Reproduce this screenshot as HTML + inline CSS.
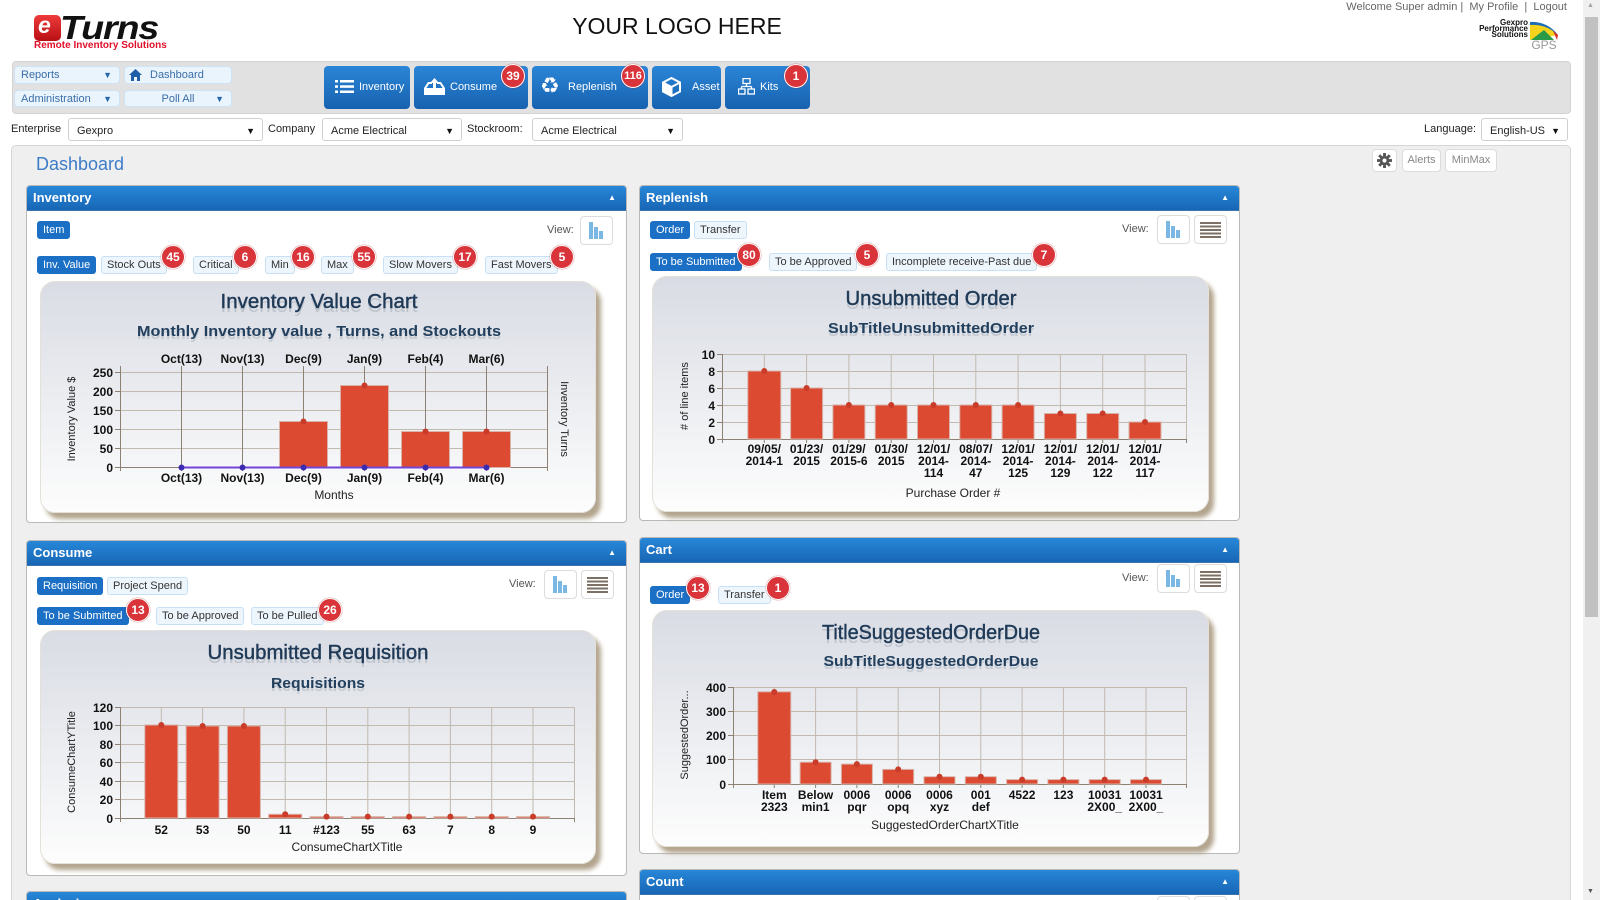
<!DOCTYPE html>
<html>
<head>
<meta charset="utf-8">
<style>
*{margin:0;padding:0;box-sizing:border-box;}
html,body{width:1600px;height:900px;overflow:hidden;background:#fff;font-family:"Liberation Sans",Arial,sans-serif;color:#333;}
#pg{position:relative;width:1600px;height:900px;overflow:hidden;background:#fff;}
.a{position:absolute;}
.dd{position:absolute;background:#eaf4fd;border:1px solid #cfe3f5;border-radius:4px;font-size:11px;color:#3a6ea8;line-height:16px;padding-left:6px;}
.dd .ar{position:absolute;right:7px;top:0;color:#2767b0;font-size:9px;}
.nb{position:absolute;top:66px;height:43px;border-radius:4px;background:linear-gradient(#2b85d6,#1762b0);color:#fff;font-size:11px;}
.nb span{position:absolute;top:15px;}
.badge{position:absolute;width:24px;height:24px;border-radius:50%;background:#d8343a;border:1px solid #fff;box-shadow:0 0 1px #a00;color:#fff;font-weight:bold;font-size:12px;text-align:center;line-height:22px;}
.sel{position:absolute;top:118px;height:23px;background:#fff;border:1px solid #cfcfcf;border-radius:3px;font-size:11px;line-height:24px;padding-left:8px;color:#222;}
.sel .ar{position:absolute;right:7px;top:0;font-size:9px;color:#111;}
.lbl{position:absolute;top:123px;font-size:11px;color:#222;}
.panel{position:absolute;background:#fff;border:1px solid #b9b9b9;border-radius:4px;overflow:hidden;}
.ph{position:absolute;left:0;top:0;right:0;height:25px;background:linear-gradient(#2787d8,#1866b5);color:#fff;font-weight:bold;font-size:13px;line-height:24px;padding-left:6px;border-bottom:1px solid #3b73b0;}
.ph .up{position:absolute;right:10px;top:0;font-size:8px;}
.tab{position:absolute;height:18px;border-radius:3px;font-size:11px;line-height:16px;padding:0 5px;white-space:nowrap;}
.on{background:#1b6fc4;color:#fff;border:1px solid #1b6fc4;}
.off{background:#eef6fd;color:#333;border:1px solid #c9e0f4;}
.vw{position:absolute;font-size:11px;color:#555;}
.vb{position:absolute;width:33px;height:29px;background:#fff;border:1px solid #dcdcdc;border-radius:4px;}
.cbox{position:absolute;border-radius:15px;background:linear-gradient(#d9dce4 0%,#e9ebef 45%,#fdfdfd 100%);box-shadow:5px 6px 5px #b3a58e;border:1px solid #e4e1da;}
.wb{position:absolute;top:149px;height:23px;background:#fff;border:1px solid #dcdcdc;border-radius:4px;font-size:11px;color:#888;line-height:21px;text-align:center;}
</style>
</head>
<body>
<div id="pg">

<!-- Header -->
<div class="a" style="left:34px;top:15px;width:27px;height:26px;background:linear-gradient(#ee3b3b,#b80f14);border-radius:5px;"></div>
<div class="a" style="left:38px;top:12px;font:italic bold 23px 'Liberation Sans',sans-serif;color:#fff;">e</div>
<div class="a" style="left:60px;top:9px;font:italic bold 33px 'Liberation Sans',sans-serif;color:#111;letter-spacing:-1px;transform:scale(1.14,1);transform-origin:0 0;">Turns</div>
<div class="a" style="left:34px;top:40px;font:bold 10px 'Liberation Sans',sans-serif;color:#e0102a;white-space:nowrap;">Remote Inventory Solutions</div>

<div class="a" style="left:560px;top:13px;width:234px;text-align:center;font-size:23px;color:#111;">YOUR LOGO HERE</div>

<div class="a" style="right:33px;top:1px;font-size:11px;color:#666;white-space:nowrap;">Welcome Super admin | &nbsp;My Profile &nbsp;| &nbsp;Logout</div>
<div class="a" style="left:1462px;top:20px;width:66px;text-align:right;font:bold 8px/6px 'Liberation Sans',sans-serif;color:#111;">Gexpro<br>Performance<br>Solutions</div>
<svg class="a" style="left:1529px;top:19px;" width="32" height="32" viewBox="0 0 32 32">
<path d="M1,3 Q18,3 29,16 L1,21 Z" fill="#f5d21c"/>
<path d="M1,3 Q18,2 29,16 L24,12 Q14,5 1,6 Z" fill="#1b6db5"/>
<path d="M24,12 Q27,14 29,16 L28,21 Z" fill="#d9302c"/>
<polygon points="2,21 15,11 25,21" fill="#2a9a48"/>
<text x="15" y="30" font-size="12" fill="#999" text-anchor="middle" font-family="Liberation Sans">GPS</text>
</svg>

<!-- Nav bar -->
<div class="a" style="left:12px;top:61px;width:1559px;height:53px;background:#e1e1e1;border:1px solid #d3d3d3;border-radius:4px;"></div>
<div class="dd" style="left:14px;top:66px;width:106px;height:18px;">Reports<span class="ar">▼</span></div>
<div class="dd" style="left:124px;top:66px;width:108px;height:18px;padding-left:25px;">Dashboard</div>
<svg class="a" style="left:129px;top:69px;" width="13" height="12" viewBox="0 0 13 12"><polygon points="6.5,0 13,6 11,6 11,12 8,12 8,8 5,8 5,12 2,12 2,6 0,6" fill="#1f5fa8"/></svg>
<div class="dd" style="left:14px;top:90px;width:106px;height:17px;">Administration<span class="ar">▼</span></div>
<div class="dd" style="left:124px;top:90px;width:108px;height:17px;text-align:center;padding-left:0;">Poll All<span class="ar">▼</span></div>

<div class="nb" style="left:324px;width:86px;"><span style="left:35px;">Inventory</span></div>
<svg class="a" style="left:335px;top:79px;" width="19" height="15" viewBox="0 0 19 15"><rect x="0" y="1" width="3" height="2.5" fill="#fff"/><rect x="5" y="1" width="14" height="2.5" fill="#fff"/><rect x="0" y="6.3" width="3" height="2.5" fill="#fff"/><rect x="5" y="6.3" width="14" height="2.5" fill="#fff"/><rect x="0" y="11.5" width="3" height="2.5" fill="#fff"/><rect x="5" y="11.5" width="14" height="2.5" fill="#fff"/></svg>
<div class="nb" style="left:414px;width:114px;"><span style="left:36px;">Consume</span></div>
<svg class="a" style="left:424px;top:78px;" width="21" height="17" viewBox="0 0 21 17"><polygon points="0,10 4,4 8,4 8,6 5,6 2.5,10 18.5,10 16,6 13,6 13,4 17,4 21,10 21,17 0,17" fill="#fff"/><polygon points="10.5,0 15,5 12,5 12,10 9,10 9,5 6,5" fill="#fff"/></svg>
<div class="nb" style="left:532px;width:116px;"><span style="left:36px;">Replenish</span></div>
<div class="a" style="left:540px;top:74px;font:bold 22px 'DejaVu Sans',sans-serif;color:#fff;">♻</div>
<div class="nb" style="left:652px;width:69px;"><span style="left:40px;">Asset</span></div>
<svg class="a" style="left:662px;top:77px;" width="19" height="20" viewBox="0 0 19 20"><polygon points="9.5,1 18,5.5 18,14.5 9.5,19 1,14.5 1,5.5" fill="none" stroke="#fff" stroke-width="2"/><polyline points="1,5.5 9.5,10 18,5.5" fill="none" stroke="#fff" stroke-width="2"/><line x1="9.5" y1="10" x2="9.5" y2="19" stroke="#fff" stroke-width="2"/><polygon points="1,5.5 9.5,10 9.5,19 1,14.5" fill="#fff"/></svg>
<div class="nb" style="left:725px;width:85px;"><span style="left:35px;">Kits</span></div>
<svg class="a" style="left:738px;top:78px;" width="17" height="17" viewBox="0 0 17 17"><rect x="5" y="0.5" width="7" height="5" fill="none" stroke="#fff" stroke-width="1.3"/><line x1="8.5" y1="5.5" x2="8.5" y2="8.5" stroke="#fff" stroke-width="1.3"/><line x1="3.5" y1="8.5" x2="13.5" y2="8.5" stroke="#fff" stroke-width="1.3"/><line x1="3.5" y1="8.5" x2="3.5" y2="11" stroke="#fff" stroke-width="1.3"/><line x1="13.5" y1="8.5" x2="13.5" y2="11" stroke="#fff" stroke-width="1.3"/><rect x="0.5" y="11" width="6.5" height="5" fill="none" stroke="#fff" stroke-width="1.3"/><rect x="10" y="11" width="6.5" height="5" fill="none" stroke="#fff" stroke-width="1.3"/></svg>
<div class="badge" style="left:501px;top:64px;">39</div>
<div class="badge" style="left:621px;top:64px;font-size:11px;">116</div>
<div class="badge" style="left:784px;top:64px;">1</div>

<!-- Filter row -->
<div class="lbl" style="left:11px;">Enterprise</div>
<div class="sel" style="left:68px;width:195px;">Gexpro<span class="ar">▼</span></div>
<div class="lbl" style="left:268px;">Company</div>
<div class="sel" style="left:322px;width:140px;">Acme Electrical<span class="ar">▼</span></div>
<div class="lbl" style="left:467px;">Stockroom:</div>
<div class="sel" style="left:532px;width:151px;">Acme Electrical<span class="ar">▼</span></div>
<div class="lbl" style="left:1424px;">Language:</div>
<div class="sel" style="left:1481px;width:87px;">English-US<span class="ar">▼</span></div>

<!-- Content area -->
<div class="a" style="left:11px;top:145px;width:1560px;height:770px;background:#efefef;border:1px solid #d6d6d6;border-radius:5px;"></div>
<div class="a" style="left:36px;top:154px;font-size:18px;color:#3d7cc9;">Dashboard</div>
<div class="wb" style="left:1372px;width:25px;"><svg width="15" height="15" viewBox="0 0 16 16" style="margin-top:3px"><g fill="#555"><circle cx="8" cy="8" r="5"/><rect x="6.5" y="0" width="3" height="16"/><rect x="0" y="6.5" width="16" height="3"/><rect x="6.5" y="0" width="3" height="16" transform="rotate(45 8 8)"/><rect x="6.5" y="0" width="3" height="16" transform="rotate(-45 8 8)"/></g><circle cx="8" cy="8" r="2.2" fill="#fff"/></svg></div>
<div class="wb" style="left:1402px;width:39px;">Alerts</div>
<div class="wb" style="left:1445px;width:52px;">MinMax</div>

<!-- Panels -->
<div class="panel" style="left:26px;top:185px;width:601px;height:338px;"><div class="ph">Inventory<span class="up">▲</span></div></div>
<div class="panel" style="left:639px;top:185px;width:601px;height:336px;"><div class="ph">Replenish<span class="up">▲</span></div></div>
<div class="panel" style="left:26px;top:540px;width:601px;height:336px;"><div class="ph">Consume<span class="up">▲</span></div></div>
<div class="panel" style="left:639px;top:537px;width:601px;height:317px;"><div class="ph">Cart<span class="up">▲</span></div></div>
<div class="panel" style="left:639px;top:869px;width:601px;height:60px;"><div class="ph">Count<span class="up">▲</span></div></div>
<div class="panel" style="left:26px;top:891px;width:601px;height:40px;"><div class="ph">Analysis<span class="up">▲</span></div></div>
<div class="vb" style="left:1157px;top:896px;"></div>
<div class="vb" style="left:1194px;top:896px;"></div>

<!-- Inventory panel content -->
<div class="tab on" style="left:37px;top:221px;">Item</div>
<div class="vw" style="left:547px;top:224px;">View:</div>
<div class="vb" style="left:580px;top:216px;"></div>
<div class="tab on" style="left:37px;top:256px;">Inv. Value</div>
<div class="tab off" style="left:101px;top:256px;">Stock Outs</div>
<div class="tab off" style="left:193px;top:256px;">Critical</div>
<div class="tab off" style="left:265px;top:256px;">Min</div>
<div class="tab off" style="left:321px;top:256px;">Max</div>
<div class="tab off" style="left:383px;top:256px;">Slow Movers</div>
<div class="tab off" style="left:485px;top:256px;">Fast Movers</div>
<div class="badge" style="left:161px;top:245px;">45</div>
<div class="badge" style="left:233px;top:245px;">6</div>
<div class="badge" style="left:291px;top:245px;">16</div>
<div class="badge" style="left:352px;top:245px;">55</div>
<div class="badge" style="left:453px;top:245px;">17</div>
<div class="badge" style="left:550px;top:245px;">5</div>

<!-- Replenish panel content -->
<div class="tab on" style="left:650px;top:221px;">Order</div>
<div class="tab off" style="left:694px;top:221px;">Transfer</div>
<div class="vw" style="left:1122px;top:223px;">View:</div>
<div class="vb" style="left:1157px;top:215px;"></div>
<div class="vb" style="left:1194px;top:215px;"></div>
<div class="tab on" style="left:650px;top:253px;">To be Submitted</div>
<div class="tab off" style="left:769px;top:253px;">To be Approved</div>
<div class="tab off" style="left:886px;top:253px;">Incomplete receive-Past due</div>
<div class="badge" style="left:737px;top:243px;">80</div>
<div class="badge" style="left:855px;top:243px;">5</div>
<div class="badge" style="left:1032px;top:243px;">7</div>

<!-- Consume panel content -->
<div class="tab on" style="left:37px;top:577px;">Requisition</div>
<div class="tab off" style="left:107px;top:577px;">Project Spend</div>
<div class="vw" style="left:509px;top:578px;">View:</div>
<div class="vb" style="left:544px;top:570px;"></div>
<div class="vb" style="left:581px;top:570px;"></div>
<div class="tab on" style="left:37px;top:607px;">To be Submitted</div>
<div class="tab off" style="left:156px;top:607px;">To be Approved</div>
<div class="tab off" style="left:251px;top:607px;">To be Pulled</div>
<div class="badge" style="left:126px;top:598px;">13</div>
<div class="badge" style="left:318px;top:598px;">26</div>

<!-- Cart panel content -->
<div class="vw" style="left:1122px;top:572px;">View:</div>
<div class="vb" style="left:1157px;top:564px;"></div>
<div class="vb" style="left:1194px;top:564px;"></div>
<div class="tab on" style="left:650px;top:586px;">Order</div>
<div class="tab off" style="left:718px;top:586px;">Transfer</div>
<div class="badge" style="left:686px;top:576px;">13</div>
<div class="badge" style="left:766px;top:576px;">1</div>

<!-- Chart boxes -->
<div class="cbox" style="left:40px;top:281px;width:556px;height:232px;"></div>
<div class="cbox" style="left:652px;top:276px;width:557px;height:236px;"></div>
<div class="cbox" style="left:40px;top:630px;width:556px;height:234px;"></div>
<div class="cbox" style="left:652px;top:610px;width:557px;height:237px;"></div>

<!-- Scrollbar -->
<div class="a" style="left:1583px;top:0;width:17px;height:900px;background:#f0f0f0;"></div>
<div class="a" style="left:1585px;top:17px;width:13px;height:600px;background:#c1c1c1;"></div>
<div class="a" style="left:1587px;top:2px;font-size:7px;color:#a3a3a3;">▲</div>
<div class="a" style="left:1587px;top:888px;font-size:7px;color:#555;">▼</div>

<!-- Overlay SVG for icons & charts -->
<svg class="a" style="left:0;top:0;" width="1600" height="900" viewBox="0 0 1600 900" font-family="Liberation Sans, Arial, sans-serif">
<defs>
<g id="barico"><rect x="0" y="0" width="4" height="17" fill="#7ab8e3"/><rect x="5" y="5" width="4" height="12" fill="#7ab8e3"/><rect x="10" y="9" width="4" height="8" fill="#7ab8e3"/></g>
<g id="listico" fill="#7d7165"><rect x="0" y="0" width="21" height="2"/><rect x="0" y="3.5" width="21" height="2"/><rect x="0" y="7" width="21" height="2"/><rect x="0" y="10.5" width="21" height="2"/><rect x="0" y="14" width="21" height="2"/></g>
</defs>
<use href="#barico" x="589" y="222"/>
<use href="#barico" x="1166" y="221"/><use href="#listico" x="1200" y="222"/>
<use href="#barico" x="553" y="576"/><use href="#listico" x="587" y="577"/>
<use href="#barico" x="1166" y="570"/><use href="#listico" x="1200" y="571"/>

<!-- ===== Inventory chart ===== -->
<g>
<text x="319" y="309" font-size="20" fill="#9aa3ad" opacity="0.45" text-anchor="middle" textLength="197" lengthAdjust="spacingAndGlyphs" transform="translate(0,3)">Inventory Value Chart</text>
<text x="319" y="308" font-size="20" fill="#1f3a57" stroke="#1f3a57" stroke-width="0.45" text-anchor="middle" textLength="197" lengthAdjust="spacingAndGlyphs">Inventory Value Chart</text>
<text x="319" y="337" font-size="15" font-weight="bold" fill="#9aa3ad" opacity="0.4" text-anchor="middle" textLength="364" lengthAdjust="spacingAndGlyphs" transform="translate(0,2)">Monthly Inventory value , Turns, and Stockouts</text>
<text x="319" y="336" font-size="15" font-weight="bold" fill="#22405e" text-anchor="middle" textLength="364" lengthAdjust="spacingAndGlyphs">Monthly Inventory value , Turns, and Stockouts</text>
<g stroke="#c2b9af" stroke-width="1">
<line x1="120" y1="372.5" x2="548" y2="372.5"/><line x1="120" y1="391.5" x2="548" y2="391.5"/><line x1="120" y1="410.5" x2="548" y2="410.5"/><line x1="120" y1="429.5" x2="548" y2="429.5"/><line x1="120" y1="448.5" x2="548" y2="448.5"/>
</g>
<g stroke="#8d8173" stroke-width="1">
<line x1="181.5" y1="366" x2="181.5" y2="471"/><line x1="242.5" y1="366" x2="242.5" y2="471"/><line x1="303.5" y1="366" x2="303.5" y2="471"/><line x1="364.5" y1="366" x2="364.5" y2="471"/><line x1="425.5" y1="366" x2="425.5" y2="471"/><line x1="486.5" y1="366" x2="486.5" y2="471"/>
<line x1="120.5" y1="366" x2="120.5" y2="471"/><line x1="547.5" y1="366" x2="547.5" y2="471"/>
<line x1="120" y1="467.5" x2="548" y2="467.5"/>
<line x1="115" y1="372.5" x2="120" y2="372.5"/><line x1="115" y1="391.5" x2="120" y2="391.5"/><line x1="115" y1="410.5" x2="120" y2="410.5"/><line x1="115" y1="429.5" x2="120" y2="429.5"/><line x1="115" y1="448.5" x2="120" y2="448.5"/><line x1="115" y1="467.5" x2="120" y2="467.5"/>
</g>
<g fill="#db4a31" stroke="#d9b3aa" stroke-width="1">
<rect x="279.5" y="421.5" width="48" height="46"/><rect x="340.5" y="385.5" width="48" height="82"/><rect x="401.5" y="431.5" width="48" height="36"/><rect x="462.5" y="431.5" width="48" height="36"/>
</g>
<g fill="#c93c2a"><circle cx="303.5" cy="421.5" r="3"/><circle cx="364.5" cy="385.5" r="3"/><circle cx="425.5" cy="431.5" r="3"/><circle cx="486.5" cy="431.5" r="3"/></g>
<line x1="181.5" y1="467.5" x2="486.5" y2="467.5" stroke="#7446d8" stroke-width="2"/>
<g fill="#3a2bb0"><circle cx="181.5" cy="467.5" r="3"/><circle cx="242.5" cy="467.5" r="3"/><circle cx="303.5" cy="467.5" r="3"/><circle cx="364.5" cy="467.5" r="3"/><circle cx="425.5" cy="467.5" r="3"/><circle cx="486.5" cy="467.5" r="3"/></g>
<g font-size="12" font-weight="bold" fill="#111" text-anchor="end" font-family="Liberation Sans Narrow, Liberation Sans, sans-serif">
<text x="113" y="377">250</text><text x="113" y="396">200</text><text x="113" y="415">150</text><text x="113" y="434">100</text><text x="113" y="453">50</text><text x="113" y="472">0</text>
</g>
<g font-size="12" font-weight="bold" fill="#111" text-anchor="middle" font-family="Liberation Sans Narrow, Liberation Sans, sans-serif">
<text x="181.5" y="363">Oct(13)</text><text x="242.5" y="363">Nov(13)</text><text x="303.5" y="363">Dec(9)</text><text x="364.5" y="363">Jan(9)</text><text x="425.5" y="363">Feb(4)</text><text x="486.5" y="363">Mar(6)</text>
<text x="181.5" y="482">Oct(13)</text><text x="242.5" y="482">Nov(13)</text><text x="303.5" y="482">Dec(9)</text><text x="364.5" y="482">Jan(9)</text><text x="425.5" y="482">Feb(4)</text><text x="486.5" y="482">Mar(6)</text>
</g>
<text x="334" y="499" font-size="12" fill="#222" text-anchor="middle" font-family="Liberation Sans Narrow, Liberation Sans, sans-serif">Months</text>
<text transform="translate(75,419) rotate(-90)" font-size="11" fill="#222" text-anchor="middle">Inventory Value $</text>
<text transform="translate(561,419) rotate(90)" font-size="11" fill="#222" text-anchor="middle">Inventory Turns</text>
</g>

<!-- ===== Replenish chart ===== -->
<g>
<text x="931" y="306" font-size="20" fill="#9aa3ad" opacity="0.45" text-anchor="middle" textLength="171" lengthAdjust="spacingAndGlyphs" transform="translate(0,3)">Unsubmitted Order</text>
<text x="931" y="305" font-size="20" fill="#1f3a57" stroke="#1f3a57" stroke-width="0.45" text-anchor="middle" textLength="171" lengthAdjust="spacingAndGlyphs">Unsubmitted Order</text>
<text x="931" y="334" font-size="15" font-weight="bold" fill="#9aa3ad" opacity="0.4" text-anchor="middle" textLength="206" lengthAdjust="spacingAndGlyphs" transform="translate(0,2)">SubTitleUnsubmittedOrder</text>
<text x="931" y="333" font-size="15" font-weight="bold" fill="#22405e" text-anchor="middle" textLength="206" lengthAdjust="spacingAndGlyphs">SubTitleUnsubmittedOrder</text>
<g stroke="#c2b9af" stroke-width="1">
<line x1="722" y1="354.5" x2="1187" y2="354.5"/><line x1="722" y1="371.5" x2="1187" y2="371.5"/><line x1="722" y1="388.5" x2="1187" y2="388.5"/><line x1="722" y1="405.5" x2="1187" y2="405.5"/><line x1="722" y1="422.5" x2="1187" y2="422.5"/>
<line x1="764.3" y1="354" x2="764.3" y2="439"/><line x1="806.6" y1="354" x2="806.6" y2="439"/><line x1="848.9" y1="354" x2="848.9" y2="439"/><line x1="891.2" y1="354" x2="891.2" y2="439"/><line x1="933.5" y1="354" x2="933.5" y2="439"/><line x1="975.8" y1="354" x2="975.8" y2="439"/><line x1="1018.1" y1="354" x2="1018.1" y2="439"/><line x1="1060.4" y1="354" x2="1060.4" y2="439"/><line x1="1102.7" y1="354" x2="1102.7" y2="439"/><line x1="1145" y1="354" x2="1145" y2="439"/><line x1="1186.5" y1="354" x2="1186.5" y2="439"/>
</g>
<g stroke="#8d8173" stroke-width="1">
<line x1="722.5" y1="354" x2="722.5" y2="443"/><line x1="722" y1="439.5" x2="1187" y2="439.5"/><line x1="1186.5" y1="439" x2="1186.5" y2="443"/>
<line x1="717" y1="354.5" x2="722" y2="354.5"/><line x1="717" y1="371.5" x2="722" y2="371.5"/><line x1="717" y1="388.5" x2="722" y2="388.5"/><line x1="717" y1="405.5" x2="722" y2="405.5"/><line x1="717" y1="422.5" x2="722" y2="422.5"/><line x1="717" y1="439.5" x2="722" y2="439.5"/>
<line x1="764.3" y1="439" x2="764.3" y2="443"/><line x1="806.6" y1="439" x2="806.6" y2="443"/><line x1="848.9" y1="439" x2="848.9" y2="443"/><line x1="891.2" y1="439" x2="891.2" y2="443"/><line x1="933.5" y1="439" x2="933.5" y2="443"/><line x1="975.8" y1="439" x2="975.8" y2="443"/><line x1="1018.1" y1="439" x2="1018.1" y2="443"/><line x1="1060.4" y1="439" x2="1060.4" y2="443"/><line x1="1102.7" y1="439" x2="1102.7" y2="443"/><line x1="1145" y1="439" x2="1145" y2="443"/>
</g>
<g fill="#db4a31" stroke="#d9b3aa" stroke-width="1">
<rect x="747.8" y="371" width="33" height="68"/><rect x="790.6" y="388" width="32" height="51"/><rect x="832.9" y="405" width="32" height="34"/><rect x="875.2" y="405" width="32" height="34"/><rect x="917.5" y="405" width="32" height="34"/><rect x="959.8" y="405" width="32" height="34"/><rect x="1002.1" y="405" width="32" height="34"/><rect x="1044.4" y="413.5" width="32" height="25.5"/><rect x="1086.7" y="413.5" width="32" height="25.5"/><rect x="1129" y="422" width="32" height="17"/>
</g>
<g fill="#c93c2a"><circle cx="764.3" cy="371" r="3"/><circle cx="806.6" cy="388" r="3"/><circle cx="848.9" cy="405" r="3"/><circle cx="891.2" cy="405" r="3"/><circle cx="933.5" cy="405" r="3"/><circle cx="975.8" cy="405" r="3"/><circle cx="1018.1" cy="405" r="3"/><circle cx="1060.4" cy="413.5" r="3"/><circle cx="1102.7" cy="413.5" r="3"/><circle cx="1145" cy="422" r="3"/></g>
<g font-size="12" font-weight="bold" fill="#111" text-anchor="end" font-family="Liberation Sans Narrow, Liberation Sans, sans-serif">
<text x="715" y="359">10</text><text x="715" y="376">8</text><text x="715" y="393">6</text><text x="715" y="410">4</text><text x="715" y="427">2</text><text x="715" y="444">0</text>
</g>
<g font-size="12" font-weight="bold" fill="#111" text-anchor="middle" font-family="Liberation Sans Narrow, Liberation Sans, sans-serif">
<text x="764.3" y="453">09/05/</text><text x="764.3" y="465">2014-1</text>
<text x="806.6" y="453">01/23/</text><text x="806.6" y="465">2015</text>
<text x="848.9" y="453">01/29/</text><text x="848.9" y="465">2015-6</text>
<text x="891.2" y="453">01/30/</text><text x="891.2" y="465">2015</text>
<text x="933.5" y="453">12/01/</text><text x="933.5" y="465">2014-</text><text x="933.5" y="477">114</text>
<text x="975.8" y="453">08/07/</text><text x="975.8" y="465">2014-</text><text x="975.8" y="477">47</text>
<text x="1018.1" y="453">12/01/</text><text x="1018.1" y="465">2014-</text><text x="1018.1" y="477">125</text>
<text x="1060.4" y="453">12/01/</text><text x="1060.4" y="465">2014-</text><text x="1060.4" y="477">129</text>
<text x="1102.7" y="453">12/01/</text><text x="1102.7" y="465">2014-</text><text x="1102.7" y="477">122</text>
<text x="1145" y="453">12/01/</text><text x="1145" y="465">2014-</text><text x="1145" y="477">117</text>
</g>
<text x="953" y="497" font-size="12" fill="#222" text-anchor="middle" font-family="Liberation Sans Narrow, Liberation Sans, sans-serif">Purchase Order #</text>
<text transform="translate(688,396) rotate(-90)" font-size="11" fill="#222" text-anchor="middle">#  of line items</text>
</g>

<!-- ===== Consume chart ===== -->
<g>
<text x="318" y="660" font-size="20" fill="#9aa3ad" opacity="0.45" text-anchor="middle" textLength="221" lengthAdjust="spacingAndGlyphs" transform="translate(0,3)">Unsubmitted Requisition</text>
<text x="318" y="659" font-size="20" fill="#1f3a57" stroke="#1f3a57" stroke-width="0.45" text-anchor="middle" textLength="221" lengthAdjust="spacingAndGlyphs">Unsubmitted Requisition</text>
<text x="318" y="689" font-size="15" font-weight="bold" fill="#9aa3ad" opacity="0.4" text-anchor="middle" textLength="94" lengthAdjust="spacingAndGlyphs" transform="translate(0,2)">Requisitions</text>
<text x="318" y="688" font-size="15" font-weight="bold" fill="#22405e" text-anchor="middle" textLength="94" lengthAdjust="spacingAndGlyphs">Requisitions</text>
<g stroke="#c2b9af" stroke-width="1">
<line x1="120" y1="707.5" x2="575" y2="707.5"/><line x1="120" y1="725.5" x2="575" y2="725.5"/><line x1="120" y1="744.5" x2="575" y2="744.5"/><line x1="120" y1="762.5" x2="575" y2="762.5"/><line x1="120" y1="781.5" x2="575" y2="781.5"/><line x1="120" y1="799.5" x2="575" y2="799.5"/>
<line x1="161.3" y1="707" x2="161.3" y2="818"/><line x1="202.6" y1="707" x2="202.6" y2="818"/><line x1="243.9" y1="707" x2="243.9" y2="818"/><line x1="285.2" y1="707" x2="285.2" y2="818"/><line x1="326.5" y1="707" x2="326.5" y2="818"/><line x1="367.8" y1="707" x2="367.8" y2="818"/><line x1="409.1" y1="707" x2="409.1" y2="818"/><line x1="450.4" y1="707" x2="450.4" y2="818"/><line x1="491.7" y1="707" x2="491.7" y2="818"/><line x1="533" y1="707" x2="533" y2="818"/><line x1="574.5" y1="707" x2="574.5" y2="818"/>
</g>
<g stroke="#8d8173" stroke-width="1">
<line x1="120.5" y1="707" x2="120.5" y2="822"/><line x1="120" y1="818.5" x2="575" y2="818.5"/><line x1="574.5" y1="818" x2="574.5" y2="822"/>
<line x1="115" y1="707.5" x2="120" y2="707.5"/><line x1="115" y1="725.5" x2="120" y2="725.5"/><line x1="115" y1="744.5" x2="120" y2="744.5"/><line x1="115" y1="762.5" x2="120" y2="762.5"/><line x1="115" y1="781.5" x2="120" y2="781.5"/><line x1="115" y1="799.5" x2="120" y2="799.5"/><line x1="115" y1="818.5" x2="120" y2="818.5"/>
</g>
<g fill="#db4a31" stroke="#d9b3aa" stroke-width="1">
<rect x="144.8" y="725" width="33" height="93"/><rect x="186.1" y="726" width="33" height="92"/><rect x="227.4" y="726" width="33" height="92"/><rect x="268.7" y="814.3" width="33" height="3.7"/><rect x="310" y="816.6" width="33" height="1.4"/><rect x="351.3" y="816.6" width="33" height="1.4"/><rect x="392.6" y="816.6" width="33" height="1.4"/><rect x="433.9" y="816.6" width="33" height="1.4"/><rect x="475.2" y="816.6" width="33" height="1.4"/><rect x="516.5" y="816.6" width="33" height="1.4"/>
</g>
<g fill="#c93c2a"><circle cx="161.3" cy="725" r="3"/><circle cx="202.6" cy="726" r="3"/><circle cx="243.9" cy="726" r="3"/><circle cx="285.2" cy="814.3" r="3"/><circle cx="326.5" cy="816.6" r="3"/><circle cx="367.8" cy="816.6" r="3"/><circle cx="409.1" cy="816.6" r="3"/><circle cx="450.4" cy="816.6" r="3"/><circle cx="491.7" cy="816.6" r="3"/><circle cx="533" cy="816.6" r="3"/></g>
<g font-size="12" font-weight="bold" fill="#111" text-anchor="end" font-family="Liberation Sans Narrow, Liberation Sans, sans-serif">
<text x="113" y="712">120</text><text x="113" y="730">100</text><text x="113" y="749">80</text><text x="113" y="767">60</text><text x="113" y="786">40</text><text x="113" y="804">20</text><text x="113" y="823">0</text>
</g>
<g font-size="12" font-weight="bold" fill="#111" text-anchor="middle" font-family="Liberation Sans Narrow, Liberation Sans, sans-serif">
<text x="161.3" y="834">52</text><text x="202.6" y="834">53</text><text x="243.9" y="834">50</text><text x="285.2" y="834">11</text><text x="326.5" y="834">#123</text><text x="367.8" y="834">55</text><text x="409.1" y="834">63</text><text x="450.4" y="834">7</text><text x="491.7" y="834">8</text><text x="533" y="834">9</text>
</g>
<text x="347" y="851" font-size="12" fill="#222" text-anchor="middle" font-family="Liberation Sans Narrow, Liberation Sans, sans-serif">ConsumeChartXTitle</text>
<text transform="translate(75,762) rotate(-90)" font-size="11" fill="#222" text-anchor="middle">ConsumeChartYTitle</text>
</g>

<!-- ===== Cart chart ===== -->
<g>
<text x="931" y="640" font-size="20" fill="#9aa3ad" opacity="0.45" text-anchor="middle" textLength="218" lengthAdjust="spacingAndGlyphs" transform="translate(0,3)">TitleSuggestedOrderDue</text>
<text x="931" y="639" font-size="20" fill="#1f3a57" stroke="#1f3a57" stroke-width="0.45" text-anchor="middle" textLength="218" lengthAdjust="spacingAndGlyphs">TitleSuggestedOrderDue</text>
<text x="931" y="667" font-size="15" font-weight="bold" fill="#9aa3ad" opacity="0.4" text-anchor="middle" textLength="215" lengthAdjust="spacingAndGlyphs" transform="translate(0,2)">SubTitleSuggestedOrderDue</text>
<text x="931" y="666" font-size="15" font-weight="bold" fill="#22405e" text-anchor="middle" textLength="215" lengthAdjust="spacingAndGlyphs">SubTitleSuggestedOrderDue</text>
<g stroke="#c2b9af" stroke-width="1">
<line x1="733" y1="687.5" x2="1187" y2="687.5"/><line x1="733" y1="711.5" x2="1187" y2="711.5"/><line x1="733" y1="735.5" x2="1187" y2="735.5"/><line x1="733" y1="759.5" x2="1187" y2="759.5"/>
<line x1="774.3" y1="687" x2="774.3" y2="784"/><line x1="815.6" y1="687" x2="815.6" y2="784"/><line x1="856.9" y1="687" x2="856.9" y2="784"/><line x1="898.2" y1="687" x2="898.2" y2="784"/><line x1="939.5" y1="687" x2="939.5" y2="784"/><line x1="980.8" y1="687" x2="980.8" y2="784"/><line x1="1022.1" y1="687" x2="1022.1" y2="784"/><line x1="1063.4" y1="687" x2="1063.4" y2="784"/><line x1="1104.7" y1="687" x2="1104.7" y2="784"/><line x1="1146" y1="687" x2="1146" y2="784"/><line x1="1186.5" y1="687" x2="1186.5" y2="784"/>
</g>
<g stroke="#8d8173" stroke-width="1">
<line x1="733.5" y1="687" x2="733.5" y2="788"/><line x1="733" y1="784.5" x2="1187" y2="784.5"/><line x1="1186.5" y1="784" x2="1186.5" y2="788"/>
<line x1="728" y1="687.5" x2="733" y2="687.5"/><line x1="728" y1="711.5" x2="733" y2="711.5"/><line x1="728" y1="735.5" x2="733" y2="735.5"/><line x1="728" y1="759.5" x2="733" y2="759.5"/><line x1="728" y1="784.5" x2="733" y2="784.5"/>
<line x1="774.3" y1="784" x2="774.3" y2="788"/><line x1="815.6" y1="784" x2="815.6" y2="788"/><line x1="856.9" y1="784" x2="856.9" y2="788"/><line x1="898.2" y1="784" x2="898.2" y2="788"/><line x1="939.5" y1="784" x2="939.5" y2="788"/><line x1="980.8" y1="784" x2="980.8" y2="788"/><line x1="1022.1" y1="784" x2="1022.1" y2="788"/><line x1="1063.4" y1="784" x2="1063.4" y2="788"/><line x1="1104.7" y1="784" x2="1104.7" y2="788"/><line x1="1146" y1="784" x2="1146" y2="788"/>
</g>
<g fill="#db4a31" stroke="#d9b3aa" stroke-width="1">
<rect x="757.8" y="691.8" width="33" height="92.2"/><rect x="800.1" y="762.2" width="31" height="21.8"/><rect x="841.4" y="764.1" width="31" height="19.9"/><rect x="882.7" y="769.4" width="31" height="14.6"/><rect x="924" y="776.7" width="31" height="7.3"/><rect x="965.3" y="776.7" width="31" height="7.3"/><rect x="1006.6" y="779.6" width="31" height="4.4"/><rect x="1047.9" y="779.6" width="31" height="4.4"/><rect x="1089.2" y="779.6" width="31" height="4.4"/><rect x="1130.5" y="779.6" width="31" height="4.4"/>
</g>
<g fill="#c93c2a"><circle cx="774.3" cy="692" r="3"/><circle cx="815.6" cy="762.2" r="3"/><circle cx="856.9" cy="764.1" r="3"/><circle cx="898.2" cy="769.4" r="3"/><circle cx="939.5" cy="776.7" r="3"/><circle cx="980.8" cy="776.7" r="3"/><circle cx="1022.1" cy="779.6" r="3"/><circle cx="1063.4" cy="779.6" r="3"/><circle cx="1104.7" cy="779.6" r="3"/><circle cx="1146" cy="779.6" r="3"/></g>
<g font-size="12" font-weight="bold" fill="#111" text-anchor="end" font-family="Liberation Sans Narrow, Liberation Sans, sans-serif">
<text x="726" y="692">400</text><text x="726" y="716">300</text><text x="726" y="740">200</text><text x="726" y="764">100</text><text x="726" y="789">0</text>
</g>
<g font-size="12" font-weight="bold" fill="#111" text-anchor="middle" font-family="Liberation Sans Narrow, Liberation Sans, sans-serif">
<text x="774.3" y="799">Item</text><text x="774.3" y="811">2323</text>
<text x="815.6" y="799">Below</text><text x="815.6" y="811">min1</text>
<text x="856.9" y="799">0006</text><text x="856.9" y="811">pqr</text>
<text x="898.2" y="799">0006</text><text x="898.2" y="811">opq</text>
<text x="939.5" y="799">0006</text><text x="939.5" y="811">xyz</text>
<text x="980.8" y="799">001</text><text x="980.8" y="811">def</text>
<text x="1022.1" y="799">4522</text>
<text x="1063.4" y="799">123</text>
<text x="1104.7" y="799">10031</text><text x="1104.7" y="811">2X00_</text>
<text x="1146" y="799">10031</text><text x="1146" y="811">2X00_</text>
</g>
<text x="945" y="829" font-size="12" fill="#222" text-anchor="middle" font-family="Liberation Sans Narrow, Liberation Sans, sans-serif">SuggestedOrderChartXTitle</text>
<text transform="translate(688,735) rotate(-90)" font-size="11" fill="#222" text-anchor="middle">SuggestedOrder...</text>
</g>
</svg>

</div>
</body>
</html>
